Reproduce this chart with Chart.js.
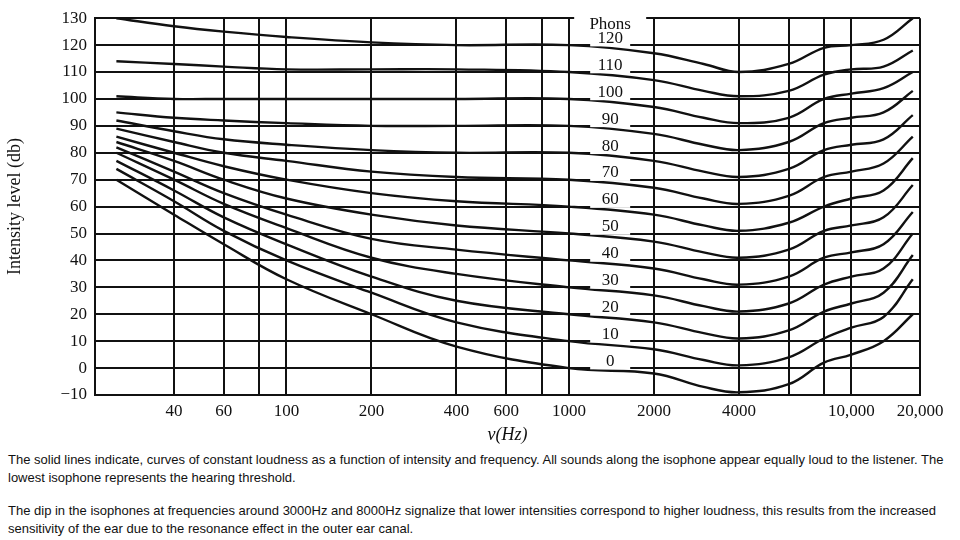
<!DOCTYPE html>
<html><head><meta charset="utf-8">
<script src="https://cdn.jsdelivr.net/npm/chart.js@4/dist/chart.umd.min.js"></script>
<style>
body{margin:0;width:960px;height:540px;background:#fff;overflow:hidden}
#wrap{position:absolute;left:0;top:0;width:960px;height:450px}
.cap{position:absolute;left:8px;width:945px;font-family:"Liberation Sans",Arial,sans-serif;font-size:13px;line-height:18px;color:#111}
</style></head><body>
<div id="wrap"><canvas id="c"></canvas></div>
<div class="cap" style="top:451px">The solid lines indicate, curves of constant loudness as a function of intensity and frequency. All sounds along the isophone appear equally loud to the listener. The lowest isophone represents the hearing threshold.</div>
<div class="cap" style="top:502px">The dip in the isophones at frequencies around 3000Hz and 8000Hz signalize that lower intensities correspond to higher loudness, this results from the increased sensitivity of the ear due to the resonance effect in the outer ear canal.</div>
<script>
const freqs = [25,40,60,100,200,400,1000,2000,3000,4000,6000,8000,10000,13000,16500];
const phon120 = [130,127,125,123,121,120,120,117,113,110,113,119,120,122,130];
const phon110 = [114,113,112,111,111,111,110,107,103,101,103,109,111,112,118];
const phon100 = [101,100,100,100,100,100,100,97,93,91,93,100,102,104,110];
const phon90 = [95,93,92,91,90,90,90,87,83,81,84,91,93,95,103];
const phon80 = [92,88,85,83,81,80,80,77,73,71,74,81,83,85,94];
const phon70 = [89,84,80,77,73,71,70,67,63,61,64,71,73,76,86];
const phon60 = [86,80,75,70,65,62,60,57,53,51,54,60,63,66,78];
const phon50 = [84,77,70,63,57,53,50,47,43,41,44,51,53,56,68];
const phon40 = [82,73,65,57,48,44,40,37,33,31,34,41,43,46,58];
const phon30 = [80,70,61,52,41,35,30,27,23,21,24,31,34,37,50];
const phon20 = [77,66,56,46,34,25,20,17,13,11,14,21,24,28,42];
const phon10 = [74,62,51,40,28,17,10,7,3,1,4,11,15,19,33];
const phon0 = [70,57,46,33,20,8,0,-2,-7,-9,-6,2,5,10,20];
const phonLevels = [120,110,100,90,80,70,60,50,40,30,20,10,0];
const phonSeries = [phon120,phon110,phon100,phon90,phon80,phon70,phon60,phon50,phon40,phon30,phon20,phon10,phon0];
const gridFreqs = [40,60,80,100,200,400,600,800,1000,2000,4000,6000,8000,10000,17500];
const xLabels = {40:'40',60:'60',100:'100',200:'200',400:'400',600:'600',1000:'1000',2000:'2000',4000:'4000',10000:'10,000',17500:'20,000'};
const labelFreq = 1400;

const datasets = phonSeries.map((s,i)=>({
  label: phonLevels[i]+' phon',
  data: freqs.map((f,j)=>({x:f,y:s[j]})),
  borderColor:'#111', borderWidth:2.4, pointRadius:0, tension:0.4, fill:false
}));

const labelPlugin = {
  id:'phonLabels',
  afterDatasetsDraw(chart){
    const {ctx, scales:{x,y}} = chart;
    ctx.save();
    ctx.textAlign='center'; ctx.textBaseline='middle';
    ctx.font='17px "Liberation Serif", serif';
    const px = x.getPixelForValue(labelFreq);
    phonLevels.forEach(p=>{
      const py = y.getPixelForValue(p+2.5);
      ctx.fillStyle='#fff'; ctx.fillRect(px-20,py-9,40,17);
      ctx.fillStyle='#111'; ctx.fillText(String(p),px,py);
    });
    const ph = y.getPixelForValue(130);
    ctx.fillStyle='#fff'; ctx.fillRect(px-36,ph-2,72,14);
    ctx.fillStyle='#111'; ctx.fillText('Phons',px,ph+6);
    ctx.restore();
  }
};

new Chart(document.getElementById('c'),{
  type:'line',
  data:{datasets},
  plugins:[labelPlugin],
  options:{
    responsive:true, maintainAspectRatio:false, animation:false,
    layout:{padding:{top:15,right:40,left:0,bottom:0}},
    plugins:{legend:{display:false},tooltip:{enabled:false}},
    scales:{
      x:{type:'logarithmic',min:21,max:17500,
        afterBuildTicks:s=>{s.ticks=gridFreqs.map(v=>({value:v}));},
        afterFit:s=>{s.height=55;},
        grid:{color:'#111',lineWidth:2,drawTicks:false},
        border:{color:'#111',width:2},
        ticks:{autoSkip:false,maxRotation:0,color:'#111',padding:6,
          font:{family:'"Liberation Serif", serif',size:17},
          callback:v=>xLabels[v]||''},
        title:{display:true,text:'ν(Hz)',color:'#111',padding:{top:2},
          font:{family:'"Liberation Serif", serif',size:18,style:'italic'}}
      },
      y:{min:-10,max:130,
        afterFit:s=>{s.width=95;},
        grid:{color:'#111',lineWidth:2,drawTicks:false},
        border:{color:'#111',width:2},
        ticks:{stepSize:10,color:'#111',padding:8,
          font:{family:'"Liberation Serif", serif',size:17},
          callback:v=>v<0?'\u2212'+(-v):String(v)},
        title:{display:true,text:'Intensity level (db)',color:'#111',
          font:{family:'"Liberation Serif", serif',size:18}}
      }
    }
  }
});
</script>
</body></html>
